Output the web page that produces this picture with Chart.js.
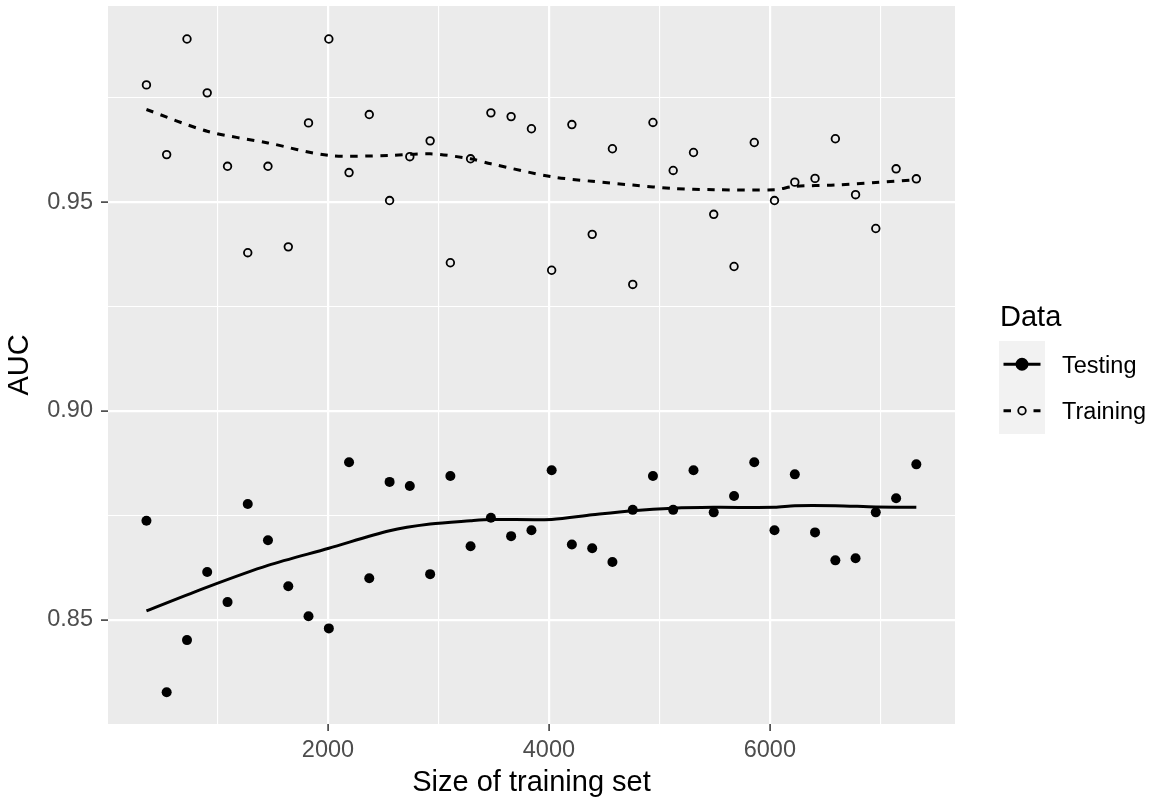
<!DOCTYPE html>
<html>
<head>
<meta charset="utf-8">
<script src="https://cdn.jsdelivr.net/npm/chart.js@4.4.0/dist/chart.umd.min.js"></script>
<style>
  body { margin: 0; background: #fff; }
  #wrap { width: 1156px; height: 805px; }
</style>
</head>
<body>
<div id="wrap"><canvas id="my-chart"></canvas></div>
<script>
'use strict'
///data///

let trainSizes = [357, 540, 724, 907, 1091, 1274, 1457, 1641, 1824, 2008, 2191, 2374, 2558,
  2741, 2925, 3108, 3291, 3475, 3658, 3842, 4025, 4208, 4392, 4575, 4759, 4942,
  5125, 5309, 5492, 5676, 5859, 6042, 6226, 6409, 6593, 6776, 6959, 7143, 7326]

let testingAuc = [0.8737, 0.8326, 0.8451, 0.8614, 0.8542, 0.8777, 0.8690, 0.8580, 0.8508, 0.8479, 0.8877, 0.8599, 0.8830,
  0.8820, 0.8609, 0.8844, 0.8676, 0.8744, 0.8700, 0.8714, 0.8858, 0.8680, 0.8671, 0.8638, 0.8763, 0.8844,
  0.8763, 0.8858, 0.8757, 0.8796, 0.8877, 0.8714, 0.8848, 0.8709, 0.8642, 0.8647, 0.8757, 0.8791, 0.8872]

let trainingAuc = [0.9781, 0.9614, 0.9891, 0.9762, 0.9586, 0.9379, 0.9586, 0.9393, 0.9690, 0.9891, 0.9571, 0.9710, 0.9504,
  0.9609, 0.9647, 0.9355, 0.9604, 0.9714, 0.9705, 0.9676, 0.9337, 0.9686, 0.9423, 0.9628, 0.9303, 0.9691,
  0.9576, 0.9619, 0.9471, 0.9346, 0.9643, 0.9504, 0.9548, 0.9557, 0.9652, 0.9518, 0.9437, 0.9580, 0.9556]

//smoothed curves, read at some of the sizes
let smoothSizes = [357, 907, 1457, 2008, 2558, 2925, 3291, 3475, 4025, 4392, 4759, 5125, 5492, 6042, 6226, 6593, 6959, 7326]
let testingSmooth = [0.8521, 0.8578, 0.8630, 0.8671, 0.8713, 0.8729, 0.8737, 0.8740, 0.8740, 0.8751, 0.8761, 0.8767, 0.8769, 0.8769, 0.8773, 0.8773, 0.8770, 0.8769]
let trainingSmooth = [0.9722, 0.9670, 0.9642, 0.9612, 0.9612, 0.9616, 0.9604, 0.9592, 0.9561, 0.9550, 0.9541, 0.9533, 0.9530, 0.9530, 0.9538, 0.9541, 0.9547, 0.9554]

let xMajor = [2000, 4000, 6000]
let xMinor = [1000, 3000, 5000, 7000]
let yMajor = [0.85, 0.90, 0.95]
let yMinor = [0.875, 0.925, 0.975]

let seriesNames = ['Testing', 'Training']
let legendTitle = 'Data'
let xTitle = 'Size of training set'
let yTitle = 'AUC'

let ctx = document.getElementById('my-chart').getContext('2d')

function toPoints(xs, ys) {
  return xs.map((x, i) => ({ x: x, y: ys[i] }))
}

function isMajor(list, v) {
  return list.some(m => Math.abs(m - v) < 1e-9)
}

const FONT = '"Liberation Sans", Arial, sans-serif'

///grey panel behind the grid
const panelBg = {
  id: 'panelBg',
  beforeDraw(chart) {
    const a = chart.chartArea
    const c = chart.ctx
    c.save()
    c.fillStyle = '#EBEBEB'
    c.fillRect(a.left, a.top, a.right - a.left, a.bottom - a.top)
    c.restore()
  }
}

///ggplot-like legend on the right
const ggLegend = {
  id: 'ggLegend',
  afterDraw(chart) {
    const a = chart.chartArea
    const c = chart.ctx
    const left = a.right + 44
    const keyTop = 341
    const keyH = 46.5
    c.save()
    c.fillStyle = '#000'
    c.textBaseline = 'middle'
    c.textAlign = 'left'
    c.font = '29px ' + FONT
    c.fillText(legendTitle, left + 1, keyTop - 23)

    c.fillStyle = '#F2F2F2'
    c.fillRect(left, keyTop, 46, keyH * 2)

    for (let i = 0; i < seriesNames.length; i++) {
      const cy = keyTop + keyH * i + keyH / 2
      const ds = chart.data.datasets[i + 2]
      const pt = chart.data.datasets[i]
      c.strokeStyle = ds.borderColor
      c.lineWidth = ds.borderWidth
      c.setLineDash(ds.borderDash || [])
      c.beginPath()
      c.moveTo(left + 4.5, cy)
      c.lineTo(left + 41.5, cy)
      c.stroke()
      c.setLineDash([])
      c.beginPath()
      c.arc(left + 23, cy, pt.pointRadius, 0, Math.PI * 2)
      if (pt.backgroundColor !== 'rgba(0,0,0,0)') {
        c.fillStyle = pt.backgroundColor
        c.fill()
      } else {
        c.fillStyle = '#F2F2F2'
        c.fill()
      }
      c.lineWidth = pt.pointBorderWidth
      c.strokeStyle = pt.borderColor
      c.stroke()

      c.fillStyle = '#000'
      c.font = '23.5px ' + FONT
      c.fillText(seriesNames[i], left + 63, cy + 2)
    }
    c.restore()
  }
}

let chartObject = {
  type: 'scatter',
  data: {
    datasets: [{
      label: seriesNames[0],
      data: toPoints(trainSizes, testingAuc),
      pointRadius: 5,
      pointBorderWidth: 0,
      backgroundColor: '#000',
      borderColor: '#000',
      order: 3
    }, {
      label: seriesNames[1],
      data: toPoints(trainSizes, trainingAuc),
      pointRadius: 3.8,
      pointBorderWidth: 1.8,
      backgroundColor: 'rgba(0,0,0,0)',
      borderColor: '#000',
      order: 4
    }, {
      label: seriesNames[0] + ' smooth',
      data: toPoints(smoothSizes, testingSmooth),
      showLine: true,
      pointRadius: 0,
      borderWidth: 3,
      borderColor: '#000',
      tension: 0.3,
      order: 1
    }, {
      label: seriesNames[1] + ' smooth',
      data: toPoints(smoothSizes, trainingSmooth),
      showLine: true,
      pointRadius: 0,
      borderWidth: 3,
      borderColor: '#000',
      borderDash: [7.5, 7.5],
      tension: 0.3,
      order: 2
    }]
  },
  options: {
    responsive: true,
    maintainAspectRatio: false,
    animation: false,
    layout: { padding: { left: 0, top: 6, right: 201, bottom: 0 } },
    plugins: {
      legend: { display: false },
      tooltip: { enabled: false }
    },
    scales: {
      x: {
        type: 'linear',
        min: 9,
        max: 7676,
        border: { display: false },
        afterBuildTicks(scale) {
          scale.ticks = xMinor.concat(xMajor).sort((p, q) => p - q).map(v => ({ value: v }))
        },
        afterFit(scale) {
          scale.height = 81
          scale.paddingLeft = 0
          scale.paddingRight = 0
        },
        grid: {
          color: '#FFFFFF',
          lineWidth: c => isMajor(xMajor, c.tick.value) ? 2.2 : 1.1,
          tickColor: c => isMajor(xMajor, c.tick.value) ? '#333333' : 'rgba(0,0,0,0)',
          tickLength: 7,
          tickWidth: 1.5,
          drawTicks: true
        },
        ticks: {
          autoSkip: false,
          maxRotation: 0,
          padding: 5,
          color: '#4D4D4D',
          font: { family: FONT, size: 23.5 },
          callback: v => isMajor(xMajor, v) ? String(v) : ''
        },
        title: {
          display: true,
          text: xTitle,
          color: '#000',
          font: { family: FONT, size: 29 },
          padding: { top: 0, bottom: 5 }
        }
      },
      y: {
        type: 'linear',
        min: 0.825,
        max: 0.997,
        border: { display: false },
        afterBuildTicks(scale) {
          scale.ticks = yMinor.concat(yMajor).sort((p, q) => p - q).map(v => ({ value: v }))
        },
        afterFit(scale) {
          scale.width = 108
          scale.paddingTop = 0
          scale.paddingBottom = 0
        },
        grid: {
          color: '#FFFFFF',
          lineWidth: c => isMajor(yMajor, c.tick.value) ? 2.2 : 1.1,
          tickColor: c => isMajor(yMajor, c.tick.value) ? '#333333' : 'rgba(0,0,0,0)',
          tickLength: 7,
          tickWidth: 1.5,
          drawTicks: true
        },
        ticks: {
          autoSkip: false,
          padding: 8,
          color: '#4D4D4D',
          font: { family: FONT, size: 23.5 },
          callback: v => isMajor(yMajor, v) ? v.toFixed(2) : ''
        },
        title: {
          display: true,
          text: yTitle,
          color: '#000',
          font: { family: FONT, size: 29 },
          padding: { top: 3, bottom: 0 }
        }
      }
    }
  },
  plugins: [panelBg, ggLegend]
}

const myChart = new Chart(ctx, chartObject)
</script>
</body>
</html>
